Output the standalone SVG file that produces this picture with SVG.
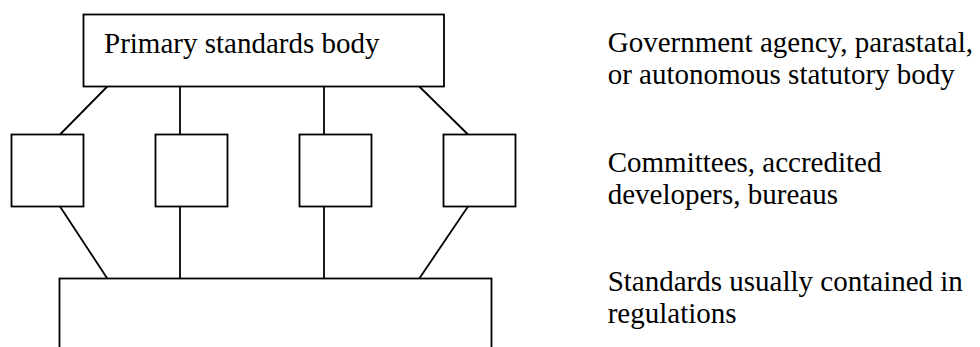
<svg xmlns="http://www.w3.org/2000/svg" width="980" height="347" viewBox="0 0 980 347">
  <style>
    .box { fill: #fff; stroke: #000; stroke-width: 1.8; }
    .link { stroke: #000; stroke-width: 1.8; fill: none; }
    .lbl { font-family: "Liberation Serif", "Times New Roman", Times, serif; font-size: 29px; fill: #000; }
  </style>
  <rect width="980" height="347" fill="#fff"/>

  <!-- connectors between the levels -->
  <g id="connectors">
    <line class="link" x1="107.3" y1="86.5" x2="60" y2="134.5"/>
    <line class="link" x1="180" y1="86.5" x2="180" y2="134.5"/>
    <line class="link" x1="324" y1="86.5" x2="324" y2="134.5"/>
    <line class="link" x1="419.3" y1="86.5" x2="468" y2="134.5"/>
    <line class="link" x1="60" y1="206.5" x2="107.3" y2="278.5"/>
    <line class="link" x1="180" y1="206.5" x2="180" y2="278.5"/>
    <line class="link" x1="324" y1="206.5" x2="324" y2="278.5"/>
    <line class="link" x1="468" y1="206.5" x2="419.3" y2="278.5"/>
  </g>

  <g id="primary-body">
    <rect class="box" x="83.5" y="14.5" width="360.5" height="72"/>
    <text class="lbl" x="104" y="53.3">Primary standards body</text>
  </g>

  <g id="unit-1"><rect class="box" x="11.5" y="134.5" width="72" height="72"/></g>
  <g id="unit-2"><rect class="box" x="155.5" y="134.5" width="72" height="72"/></g>
  <g id="unit-3"><rect class="box" x="299.5" y="134.5" width="72" height="72"/></g>
  <g id="unit-4"><rect class="box" x="443.5" y="134.5" width="72" height="72"/></g>

  <g id="standards">
    <rect class="box" x="59.5" y="278.5" width="432" height="90"/>
  </g>

  <!-- descriptions for each level -->
  <g id="legend">
    <text class="lbl" x="607.7" y="51.7">Government agency, parastatal,</text>
    <text class="lbl" x="607.7" y="83.5">or autonomous statutory body</text>
    <text class="lbl" x="607.7" y="171.7">Committees, accredited</text>
    <text class="lbl" x="607.7" y="204">developers, bureaus</text>
    <text class="lbl" x="607.7" y="291">Standards usually contained in</text>
    <text class="lbl" x="607.7" y="323">regulations</text>
  </g>
</svg>
